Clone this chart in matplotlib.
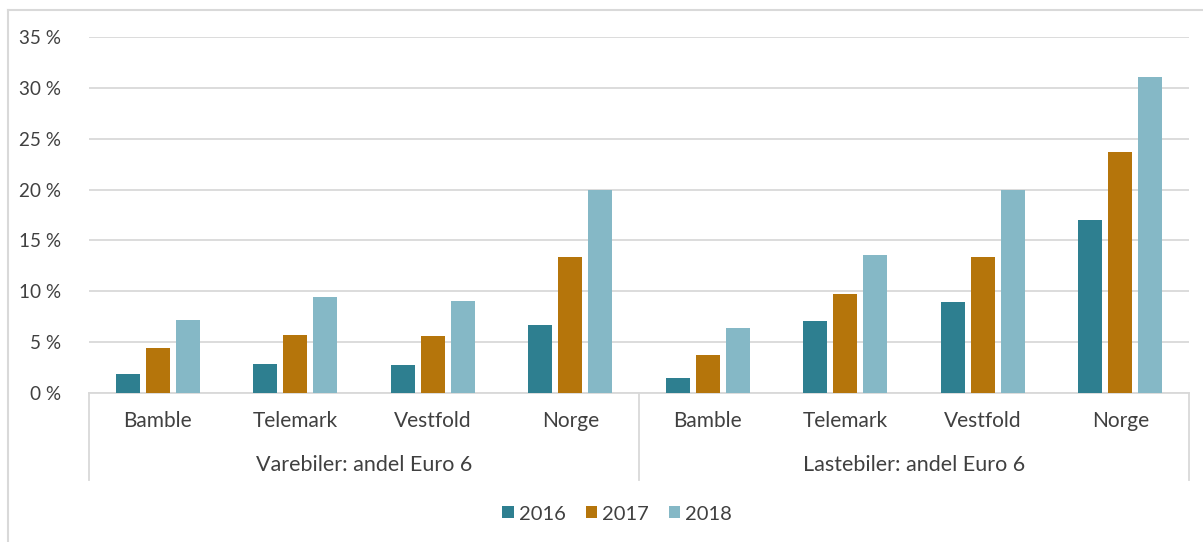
import matplotlib
matplotlib.use("Agg")
import matplotlib.pyplot as plt
from matplotlib.lines import Line2D
import numpy as np

plt.rcParams['font.family'] = ['Lato', 'DejaVu Sans']

regions = ["Bamble", "Telemark", "Vestfold", "Norge"]
groups = ["Varebiler: andel Euro 6", "Lastebiler: andel Euro 6"]
years = ["2016", "2017", "2018"]
colors = ["#2E7F90", "#B5750B", "#85B8C6"]

# values in %
vare_2016 = [1.9, 2.9, 2.75, 6.7]
vare_2017 = [4.4, 5.7, 5.6, 13.4]
vare_2018 = [7.2, 9.4, 9.0, 20.0]
laste_2016 = [1.5, 7.1, 8.9, 17.0]
laste_2017 = [3.7, 9.7, 13.4, 23.7]
laste_2018 = [6.4, 13.6, 20.0, 31.1]

series = [vare_2016 + laste_2016, vare_2017 + laste_2017, vare_2018 + laste_2018]
yticks = [0, 5, 10, 15, 20, 25, 30, 35]

W, H = 1203, 542
FS = 15
TXT = "#404040"
GRID = "#D9D9D9"
fig = plt.figure(figsize=(W / 100, H / 100), dpi=100)
ax = fig.add_axes([89 / W, 149 / H, (1189 - 89) / W, (393 - 37) / H])

n = len(regions) * len(groups)
x = np.arange(n)
bw = 0.174
step = 0.218
for i, (vals, c, lab) in enumerate(zip(series, colors, years)):
    ax.bar(x + (i - 1) * step, vals, width=bw, color=c, label=lab, zorder=3)

ax.set_xlim(-0.5, n - 0.5)
ax.set_ylim(0, 35)
ax.set_yticks(yticks)
ax.set_yticklabels([f"{t} %" for t in yticks], fontsize=13.6, color=TXT)
ax.yaxis.grid(True, color=GRID, linewidth=1.3, zorder=0)
ax.tick_params(axis="y", length=0, pad=20)
ax.set_xticks([])
for s in ["top", "right", "left"]:
    ax.spines[s].set_visible(False)
ax.spines["bottom"].set_color(GRID)
ax.spines["bottom"].set_linewidth(1.3)

# category labels
for j in range(n):
    ax.text(j, -28 / 356, regions[j % len(regions)], transform=ax.get_xaxis_transform(),
            ha="center", va="center", fontsize=FS, color=TXT)
# group labels
for g, name in enumerate(groups):
    cx = g * len(regions) + (len(regions) - 1) / 2
    ax.text(cx, -72 / 356, name, transform=ax.get_xaxis_transform(),
            ha="center", va="center", fontsize=FS + 0.5, color=TXT)
# separators
for b in [-0.5, len(regions) - 0.5, n - 0.5]:
    ax.add_line(Line2D([b, b], [0, -87 / 356], transform=ax.get_xaxis_transform(),
                       color=GRID, linewidth=1.3, clip_on=False))

# legend
ax.legend(loc="center", bbox_to_anchor=(617 / W, 1 - 514 / H), bbox_transform=fig.transFigure,
          ncol=3, frameon=False, fontsize=14.5, handlelength=0.55, handleheight=0.55,
          handletextpad=0.25, columnspacing=1.0, labelcolor=TXT)

# outer border (top and left only visible)
fig.add_artist(Line2D([8 / W, 1], [1 - 10 / H, 1 - 10 / H], transform=fig.transFigure,
                      color=GRID, linewidth=1.5))
fig.add_artist(Line2D([8 / W, 8 / W], [0, 1 - 10 / H], transform=fig.transFigure,
                      color=GRID, linewidth=1.5))

fig.savefig("out.png", dpi=100)
